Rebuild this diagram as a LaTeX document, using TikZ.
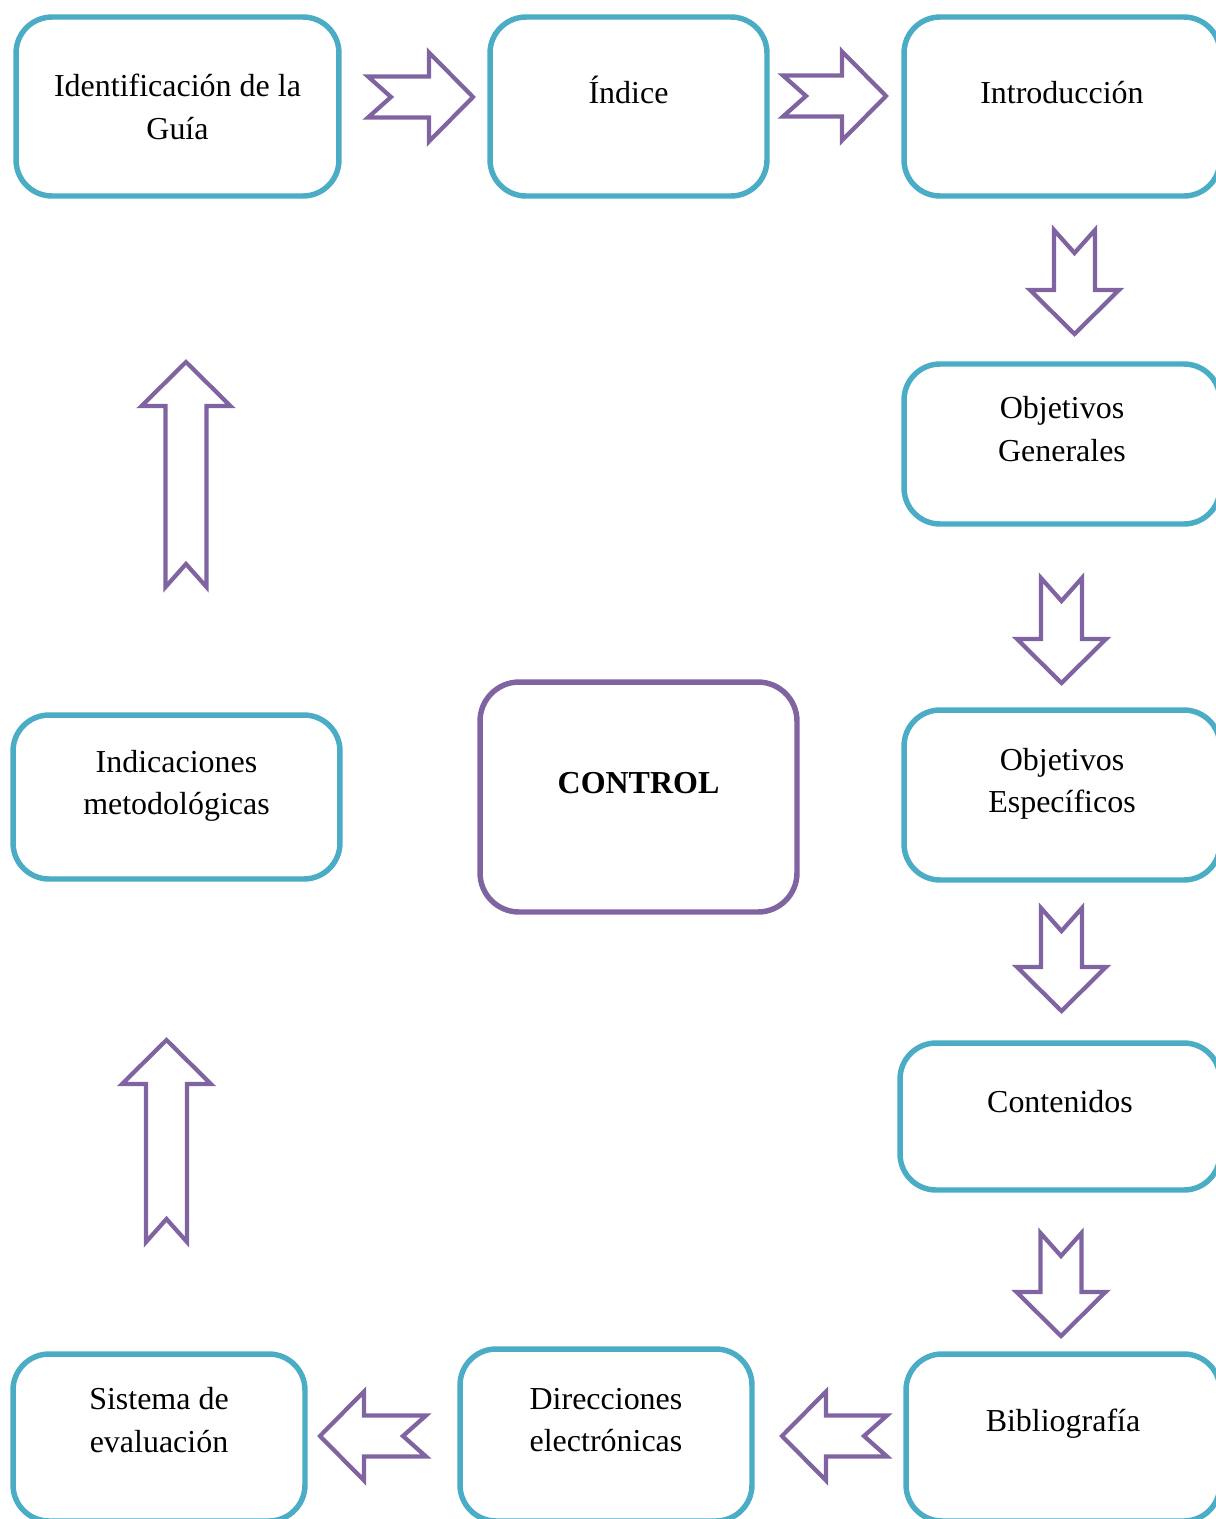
\documentclass[tikz,border=0pt]{standalone}
\usepackage{fontspec}
\setmainfont{Liberation Serif}
\definecolor{azul}{HTML}{4BACC6}
\definecolor{morado}{HTML}{8064A2}

\begin{document}
\begin{tikzpicture}[x=0.02cm, y=-0.02cm]
\tikzset{caja/.style={draw=azul, line width=3.1pt, rounded corners=0.72cm, fill=white, rectangle},
         cajacontrol/.style={draw=morado, line width=3.1pt, rounded corners=0.78cm, fill=white, rectangle},
         texto/.style={align=center, inner sep=0pt, font=\fontsize{18.2}{24.2}\selectfont},
         bordeflecha/.style={draw=morado, line width=2.4pt, fill=white, line join=miter},
         pics/flecha/.style={code={
           \draw[bordeflecha] (0,-20.5) -- (23,0) -- (0,20.5) -- (#1-44,20.5) -- (#1-44,44.5)
             -- (#1,0) -- (#1-44,-44.5) -- (#1-44,-20.5) -- cycle;}}}
\useasboundingbox (0,0) rectangle (1216,1519);
\clip (0,0) rectangle (1216,1519);
\node[caja, minimum width=6.46cm, minimum height=3.58cm] (guia) at (177.5,106.5) {};
\node[caja, minimum width=5.54cm, minimum height=3.58cm] (indice) at (628.5,106.5) {};
\node[caja, minimum width=6.32cm, minimum height=3.58cm] (intro) at (1062,106.5) {};
\node[caja, minimum width=6.32cm, minimum height=3.2cm] (generales) at (1062,444) {};
\node[caja, minimum width=6.32cm, minimum height=3.4cm] (especificos) at (1062,795) {};
\node[caja, minimum width=6.4cm, minimum height=2.94cm] (contenidos) at (1060,1116.5) {};
\node[caja, minimum width=6.28cm, minimum height=3.34cm] (biblio) at (1063,1437.5) {};
\node[caja, minimum width=5.84cm, minimum height=3.44cm] (direcciones) at (606,1435) {};
\node[caja, minimum width=5.84cm, minimum height=3.34cm] (sistema) at (159,1437.5) {};
\node[caja, minimum width=6.54cm, minimum height=3.28cm] (indicaciones) at (176.5,797) {};
\node[cajacontrol, minimum width=6.34cm, minimum height=4.6cm] (control) at (638.5,797) {};
% textos
\node[texto] (t-guia) at (177.5,107) {Identificación de la\\Guía};
\node[texto] (t-indice) at (628.5,90) {Índice};
\node[texto] (t-intro) at (1062,93) {Introducción};
\node[texto] (t-generales) at (1062,429) {Objetivos\\Generales};
\node[texto] (t-especificos) at (1062,784) {Objetivos\\Específicos};
\node[texto] (t-contenidos) at (1060,1102) {Contenidos};
\node[texto] (t-biblio) at (1063,1424) {Bibliografía};
\node[texto] (t-direcciones) at (606,1420) {Direcciones\\electrónicas};
\node[texto] (t-sistema) at (159,1420) {Sistema de\\evaluación};
\node[texto] (t-indicaciones) at (176.5,786) {Indicaciones\\metodológicas};
\node[texto, font=\fontsize{18.2}{24.2}\selectfont\bfseries] (t-control) at (638.5,783) {CONTROL};
% flechas
\pic at (368,97) {flecha=105};
\pic at (783,96) {flecha=103};
\pic[rotate=-90] at (1074.5,230) {flecha=104};
\pic[rotate=-90] at (1061.5,578) {flecha=105};
\pic[rotate=-90] at (1061.5,908) {flecha=103};
\pic[rotate=-90] at (1061,1233) {flecha=103};
\pic[rotate=180] at (887,1436) {flecha=105};
\pic[rotate=180] at (426,1436) {flecha=106};
\pic[rotate=90] at (186,587) {flecha=225};
\pic[rotate=90] at (166.5,1242) {flecha=202};
\end{tikzpicture}
\end{document}
